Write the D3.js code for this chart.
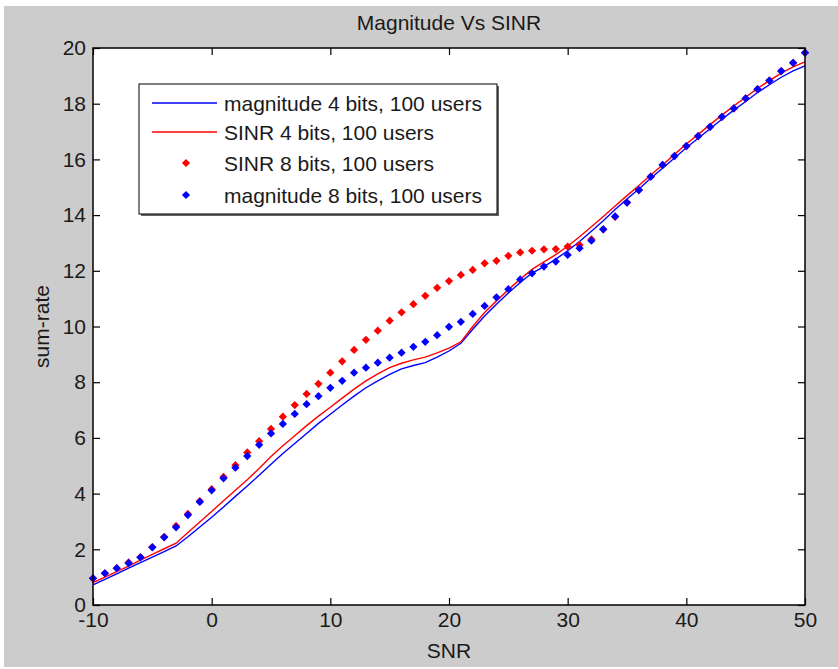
<!DOCTYPE html>
<html>
<head>
<meta charset="utf-8">
<script src="https://cdn.jsdelivr.net/npm/d3@7"></script>
<style>
  body { margin: 0; background: #fff; }
  text { font-family: "Liberation Sans", Arial, sans-serif; fill: #1a1a1a; }
</style>
</head>
<body>
<div id="chart-area"></div>
<script>
// SNR values (x axis)
var snr = [-10,-9,-8,-7,-6,-5,-4,-3,-2,-1,0,1,2,3,4,5,6,7,8,9,10,11,12,13,14,15,16,17,18,19,20,
  21,22,23,24,25,26,27,28,29,30,31,32,33,34,35,36,37,38,39,40,41,42,43,44,45,46,47,48,49,50];

// magnitude 4 bits, 100 users (blue line)
var mag4 = [0.72,0.92,1.12,1.32,1.52,1.72,1.92,2.12,2.45,2.80,3.15,3.52,3.90,4.27,4.66,5.05,5.44,5.80,6.16,6.52,6.85,
  7.18,7.50,7.80,8.05,8.28,8.48,8.60,8.70,8.90,9.12,9.40,9.90,10.38,10.80,11.20,11.58,11.92,12.15,12.42,12.72,
  13.05,13.42,13.80,14.20,14.58,14.94,15.32,15.68,16.05,16.42,16.76,17.10,17.44,17.77,18.08,18.40,18.68,18.95,19.18,19.36];

// SINR 4 bits, 100 users (red line)
var sinr4 = [0.80,1.00,1.20,1.40,1.61,1.82,2.02,2.22,2.60,2.98,3.36,3.74,4.12,4.50,4.90,5.33,5.72,6.08,6.44,6.78,7.10,
  7.43,7.75,8.05,8.30,8.52,8.68,8.80,8.90,9.05,9.22,9.45,10.00,10.50,10.92,11.32,11.70,12.05,12.32,12.58,12.88,
  13.22,13.58,13.95,14.33,14.70,15.06,15.44,15.80,16.18,16.55,16.90,17.25,17.59,17.92,18.23,18.55,18.83,19.10,19.32,19.50];

// SINR 8 bits, 100 users (red dots)
var sinr8 = [0.96,1.14,1.32,1.53,1.72,2.08,2.45,2.84,3.27,3.73,4.16,4.60,5.02,5.48,5.88,6.32,6.76,7.18,7.58,7.94,8.34,
  8.75,9.16,9.52,9.85,10.21,10.51,10.80,11.10,11.39,11.63,11.85,12.03,12.27,12.36,12.54,12.66,12.72,12.77,12.78,12.87,
  12.93,13.13,13.49,13.94,14.45,14.90,15.38,15.80,16.12,16.48,16.84,17.17,17.53,17.83,18.19,18.52,18.83,19.17,19.47,19.83];

// magnitude 8 bits, 100 users (blue dots)
var mag8 = [0.96,1.14,1.32,1.50,1.71,2.07,2.43,2.79,3.23,3.70,4.12,4.55,4.93,5.35,5.75,6.16,6.50,6.86,7.21,7.50,7.80,
  8.05,8.34,8.52,8.70,8.88,9.06,9.27,9.45,9.69,9.99,10.17,10.45,10.74,11.05,11.34,11.69,11.91,12.15,12.33,12.57,
  12.81,13.08,13.49,13.95,14.45,14.90,15.38,15.80,16.12,16.48,16.84,17.17,17.53,17.83,18.19,18.52,18.83,19.17,19.47,19.83];

var xTicks = [-10,0,10,20,30,40,50];
var yTicks = [0,2,4,6,8,10,12,14,16,18,20];

var legendLabels = ["magnitude 4 bits, 100 users", "SINR 4 bits, 100 users",
                    "SINR 8 bits, 100 users", "magnitude 8 bits, 100 users"];

var W = 838, H = 669;
var pLeft = 93, pRight = 805, pTop = 48, pBottom = 605;
var fontSize = 21;

var svg = d3.select("#chart-area").append("svg")
    .attr("width", W)
    .attr("height", H);

// grey figure background
svg.append("rect")
    .attr("x", 4).attr("y", 6)
    .attr("width", W - 4).attr("height", H - 8)
    .attr("fill", "#cccccc");

var x = d3.scaleLinear().domain([-10, 50]).range([pLeft, pRight]);
var y = d3.scaleLinear().domain([0, 20]).range([pBottom, pTop]);

// white plot area
svg.append("rect")
    .attr("x", pLeft).attr("y", pTop)
    .attr("width", pRight - pLeft).attr("height", pBottom - pTop)
    .attr("fill", "#fff");

var plot = svg.append("g");

var line = d3.line()
    .x(function(d){ return x(d[0]); })
    .y(function(d){ return y(d[1]); });

function pairs(vals){
    return snr.map(function(s, i){ return [s, vals[i]]; });
}

plot.append("path")
    .attr("d", line(pairs(mag4)))
    .attr("fill", "none")
    .attr("stroke", "#0000ff")
    .attr("stroke-width", 1.4);

plot.append("path")
    .attr("d", line(pairs(sinr4)))
    .attr("fill", "none")
    .attr("stroke", "#ff0000")
    .attr("stroke-width", 1.4);

// diamond markers (rotated squares)
var diamond = d3.symbol().type(d3.symbolSquare).size(34);

function dots(vals, color){
    plot.append("g").selectAll("path")
        .data(pairs(vals))
        .enter()
        .append("path")
            .attr("d", diamond)
            .attr("transform", function(d){
                return "translate(" + x(d[0]) + "," + y(d[1]) + ") rotate(45)";
            })
            .attr("fill", color);
}
dots(sinr8, "#ff0000");
dots(mag8, "#0000ff");

// axes, ticks pointing inward on all four sides
var plain = function(d){ return String(d); }; // keep the ascii hyphen like matlab
svg.append("g")
    .attr("transform", "translate(0," + pBottom + ")")
    .call(d3.axisBottom(x).tickValues(xTicks).tickFormat(plain)
        .tickSizeInner(-7).tickSizeOuter(0).tickPadding(7));
svg.append("g")
    .attr("transform", "translate(" + pLeft + ",0)")
    .call(d3.axisLeft(y).tickValues(yTicks).tickFormat(plain)
        .tickSizeInner(-7).tickSizeOuter(0).tickPadding(7));
svg.append("g")
    .attr("transform", "translate(0," + pTop + ")")
    .call(d3.axisTop(x).tickValues(xTicks).tickSizeInner(-7).tickSizeOuter(0).tickFormat(""));
svg.append("g")
    .attr("transform", "translate(" + pRight + ",0)")
    .call(d3.axisRight(y).tickValues(yTicks).tickSizeInner(-7).tickSizeOuter(0).tickFormat(""));

svg.selectAll(".domain").remove();
svg.selectAll(".tick line").attr("stroke", "#000").attr("stroke-width", 1.2);
svg.selectAll(".tick text")
    .attr("font-size", fontSize)
    .attr("font-family", "Liberation Sans, Arial, sans-serif")
    .attr("fill", "#1a1a1a");

// plot frame
svg.append("rect")
    .attr("x", pLeft).attr("y", pTop)
    .attr("width", pRight - pLeft).attr("height", pBottom - pTop)
    .attr("fill", "none")
    .attr("stroke", "#000")
    .attr("stroke-width", 1.5);

// title and axis labels
svg.append("text")
    .attr("x", (pLeft + pRight) / 2).attr("y", 30)
    .attr("text-anchor", "middle")
    .attr("font-size", fontSize)
    .text("Magnitude Vs SINR");

svg.append("text")
    .attr("x", (pLeft + pRight) / 2).attr("y", 658)
    .attr("text-anchor", "middle")
    .attr("font-size", fontSize)
    .text("SNR");

svg.append("text")
    .attr("transform", "translate(49," + (pTop + pBottom) / 2 + ") rotate(-90)")
    .attr("text-anchor", "middle")
    .attr("font-size", fontSize)
    .text("sum-rate");

// legend
var lg = svg.append("g");
var lx = 139, ly = 84, lw = 358, lh = 130;
lg.append("rect")
    .attr("x", lx + 2).attr("y", ly + 2)
    .attr("width", lw).attr("height", lh)
    .attr("fill", "#666");
lg.append("rect")
    .attr("x", lx).attr("y", ly)
    .attr("width", lw).attr("height", lh)
    .attr("fill", "#fff")
    .attr("stroke", "#000")
    .attr("stroke-width", 1);

var rowY = [103, 132, 163, 195];
var kinds = ["line", "line", "dot", "dot"];
var colors = ["#0000ff", "#ff0000", "#ff0000", "#0000ff"];

legendLabels.forEach(function(label, i){
    if (kinds[i] === "line") {
        lg.append("line")
            .attr("x1", 152).attr("x2", 217)
            .attr("y1", rowY[i]).attr("y2", rowY[i])
            .attr("stroke", colors[i])
            .attr("stroke-width", 1.4);
    } else {
        lg.append("path")
            .attr("d", diamond)
            .attr("transform", "translate(186," + rowY[i] + ") rotate(45)")
            .attr("fill", colors[i]);
    }
    lg.append("text")
        .attr("x", 224).attr("y", rowY[i])
        .attr("dy", "0.36em")
        .attr("font-size", fontSize)
        .text(label);
});
</script>
</body>
</html>
